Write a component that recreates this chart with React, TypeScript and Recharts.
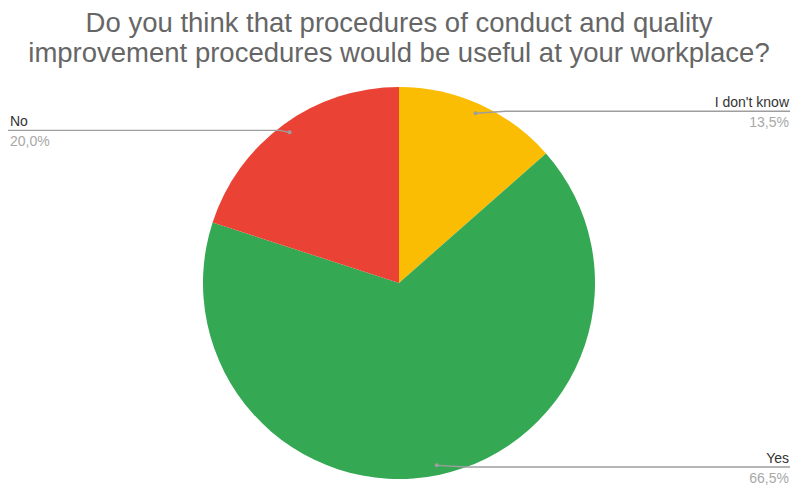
import { PieChart, Pie, Cell } from "recharts";

const answers = ["I don't know", "Yes", "No"];
const shares = [13.5, 66.5, 20.0];
const sliceColors = ["#FBBC04", "#34A853", "#EA4335"];
const titleLines = [
  "Do you think that procedures of conduct and quality",
  "improvement procedures would be useful at your workplace?",
];

const data = answers.map((name, i) => ({ name, value: shares[i] }));

const RADIAN = Math.PI / 180;
const W = 793;
const H = 486;
const FONT = "Arial, 'Liberation Sans', sans-serif";

function renderLabel(props: any) {
  const { cx, cy, midAngle, outerRadius, index } = props;
  const r = outerRadius * 0.95;
  const dx = cx + r * Math.cos(-midAngle * RADIAN);
  const dy = cy + r * Math.sin(-midAngle * RADIAN);
  const right = dx > cx;
  // bottom label gets pushed up so the text fits
  const lineY = dy > cy ? H - 19 : dy - 2;
  const endX = right ? 790 : 8;
  const kneeX = right ? dx + 30 : dx - 10;
  const label = shares[index].toFixed(1).replace(".", ",") + "%";
  return (
    <g key={`lbl-${index}`}>
      <polyline
        points={`${dx},${dy} ${kneeX},${lineY} ${endX},${lineY}`}
        fill="none"
        stroke="#9e9e9e"
        strokeWidth={1.4}
      />
      <circle cx={dx} cy={dy} r={2} fill="#9e9e9e" />
      <text
        x={right ? endX - 1 : endX + 2}
        y={lineY - 4}
        textAnchor={right ? "end" : "start"}
        fontSize={14}
        fontFamily={FONT}
        fill="#333"
      >
        {answers[index]}
      </text>
      <text
        x={right ? endX - 1 : endX + 2}
        y={lineY + 16}
        textAnchor={right ? "end" : "start"}
        fontSize={14}
        fontFamily={FONT}
        fill="#a8a8a8"
      >
        {label}
      </text>
    </g>
  );
}

export default function App() {
  return (
    <div style={{ position: "absolute", left: 0, top: 0, width: W, height: H, background: "#fff" }}>
      <div style={{ position: "absolute", left: 0, top: 0 }}>
        <PieChart width={W} height={H} margin={{ top: 0, right: 0, bottom: 0, left: 0 }}>
          <Pie
            data={data}
            dataKey="value"
            nameKey="name"
            cx={399}
            cy={283}
            outerRadius={196}
            startAngle={90}
            endAngle={-270}
            stroke="none"
            label={renderLabel}
            labelLine={false}
            isAnimationActive={false}
          >
            {data.map((_entry, index) => (
              <Cell key={`cell-${index}`} fill={sliceColors[index]} />
            ))}
          </Pie>
        </PieChart>
      </div>
      <svg width={W} height={75} style={{ position: "absolute", left: 0, top: 0, pointerEvents: "none" }}>
        {titleLines.map((t, i) => (
          <text
            key={i}
            x={399}
            y={32 + i * 30}
            textAnchor="middle"
            fontSize={27.5}
            fontFamily={FONT}
            fill="#666"
          >
            {t}
          </text>
        ))}
      </svg>
    </div>
  );
}
